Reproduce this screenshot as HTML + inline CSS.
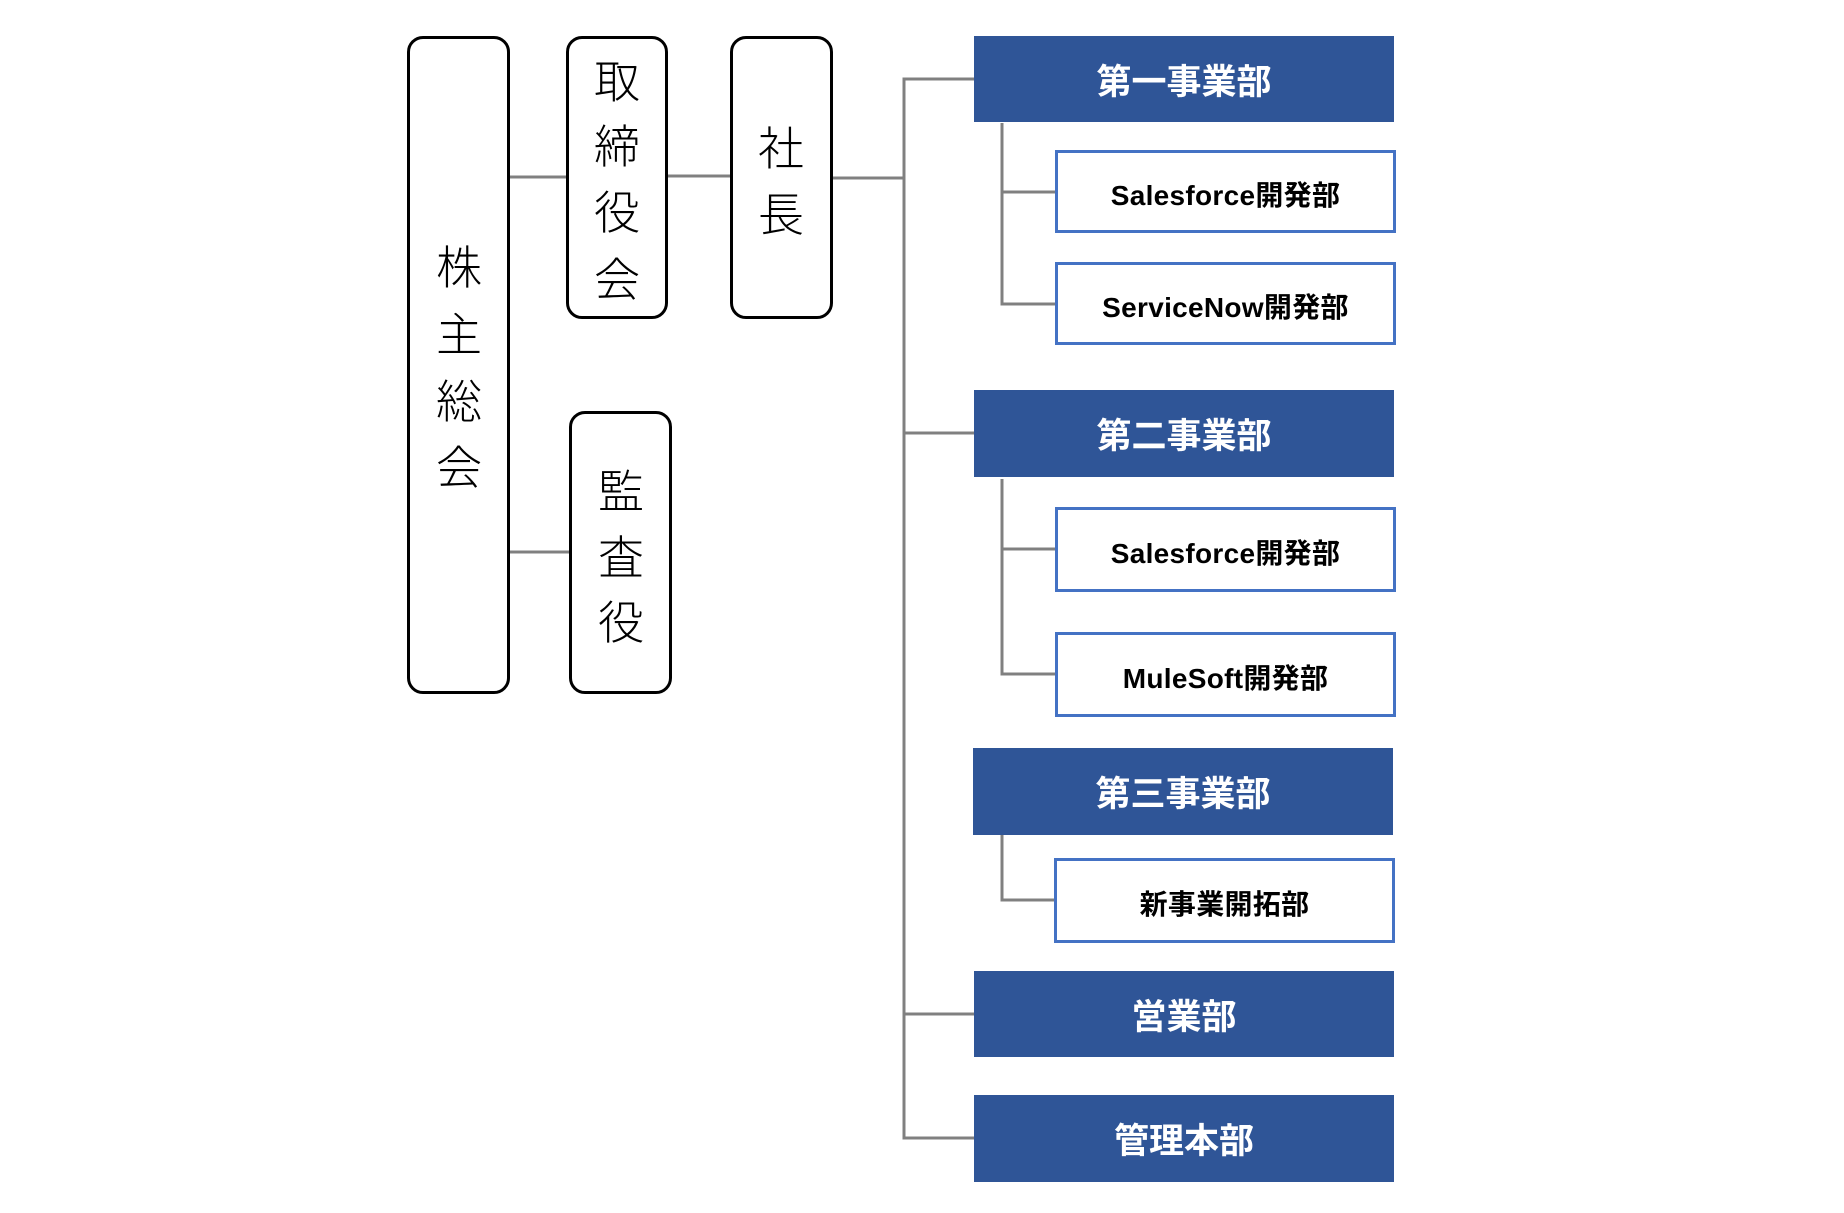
<!DOCTYPE html>
<html>
<head>
<meta charset="utf-8">
<style>
html,body{margin:0;padding:0;background:#fff;}
body{width:1844px;height:1213px;position:relative;overflow:hidden;}
.rb{position:absolute;box-sizing:border-box;border:3px solid #000;border-radius:16px;background:#fff;}
.ch{position:absolute;width:80px;height:66px;line-height:66px;text-align:center;font-family:"Liberation Sans","Noto Sans CJK JP",sans-serif;font-size:46px;font-weight:300;color:#000;}
.blue{position:absolute;left:974px;width:420px;background:#2F5597;color:#fff;display:flex;align-items:center;justify-content:center;font-family:"Liberation Sans","Noto Sans CJK JP",sans-serif;font-weight:bold;font-size:35px;}
.child{position:absolute;left:1055px;width:341px;height:84px;box-sizing:border-box;border:3px solid #4472C4;background:#fff;display:flex;align-items:center;justify-content:center;font-family:"Liberation Sans","Noto Sans CJK JP",sans-serif;font-weight:bold;font-size:28px;color:#000;padding-top:4px;letter-spacing:0.3px;}
svg{position:absolute;left:0;top:0;}
</style>
</head>
<body>
<svg width="1844" height="1213" viewBox="0 0 1844 1213">
<g stroke="#808080" stroke-width="3" fill="none">
<line x1="510" y1="177" x2="567" y2="177"/>
<line x1="668" y1="176" x2="732" y2="176"/>
<line x1="833" y1="178" x2="904" y2="178"/>
<line x1="510" y1="552" x2="570" y2="552"/>
<polyline points="975,79 904,79 904,1138 975,1138"/>
<line x1="904" y1="433" x2="975" y2="433"/>
<line x1="904" y1="1014" x2="975" y2="1014"/>
<polyline points="1002,123 1002,304 1056,304"/>
<line x1="1002" y1="192" x2="1056" y2="192"/>
<polyline points="1002,479 1002,674 1056,674"/>
<line x1="1002" y1="549" x2="1056" y2="549"/>
<polyline points="1002,833 1002,900 1056,900"/>
</g>
</svg>

<div class="rb" style="left:407px;top:36px;width:103px;height:658px;"></div>
<div class="rb" style="left:566px;top:36px;width:102px;height:283px;"></div>
<div class="rb" style="left:730px;top:36px;width:103px;height:283px;"></div>
<div class="rb" style="left:569px;top:411px;width:103px;height:283px;"></div>

<div class="ch" style="left:419px;top:235px;">株</div>
<div class="ch" style="left:419px;top:302px;">主</div>
<div class="ch" style="left:419px;top:369px;">総</div>
<div class="ch" style="left:419px;top:435px;">会</div>

<div class="ch" style="left:577px;top:49px;">取</div>
<div class="ch" style="left:577px;top:114px;">締</div>
<div class="ch" style="left:577px;top:180px;">役</div>
<div class="ch" style="left:577px;top:247px;">会</div>

<div class="ch" style="left:741px;top:116px;">社</div>
<div class="ch" style="left:741px;top:182px;">長</div>

<div class="ch" style="left:581px;top:459px;">監</div>
<div class="ch" style="left:581px;top:525px;">査</div>
<div class="ch" style="left:581px;top:590px;">役</div>

<div class="blue" style="top:36px;height:86px;">第一事業部</div>
<div class="blue" style="top:390px;height:87px;">第二事業部</div>
<div class="blue" style="top:748px;height:87px;left:973px;">第三事業部</div>
<div class="blue" style="top:971px;height:86px;">営業部</div>
<div class="blue" style="top:1095px;height:87px;">管理本部</div>

<div class="child" style="top:150px;height:83px;">Salesforce開発部</div>
<div class="child" style="top:262px;height:83px;">ServiceNow開発部</div>
<div class="child" style="top:507px;height:85px;">Salesforce開発部</div>
<div class="child" style="top:632px;height:85px;">MuleSoft開発部</div>
<div class="child" style="top:858px;height:85px;left:1054px;">新事業開拓部</div>
</body>
</html>
